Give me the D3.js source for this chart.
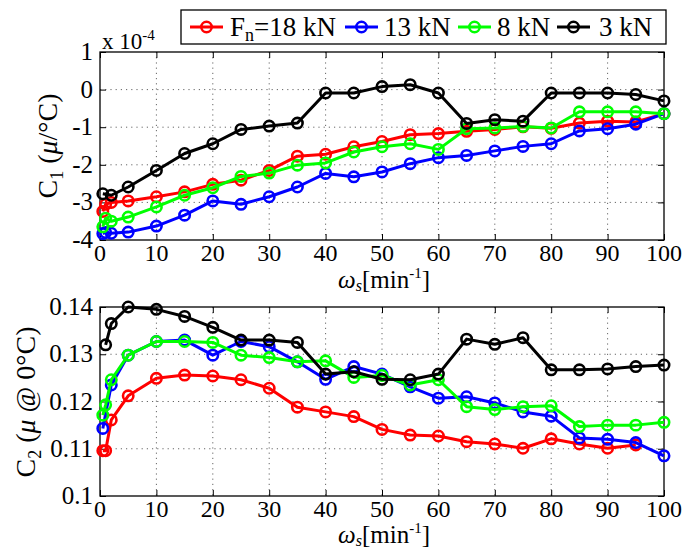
<!DOCTYPE html>
<html><head><meta charset="utf-8">
<script src="https://cdn.jsdelivr.net/npm/d3@7"></script>
<style>body{margin:0;background:#fff}svg{display:block}</style>
</head><body><svg id="c" width="689" height="549"></svg>
<script>
// ---- data ----
const omega = [0.5, 1, 2, 5, 10, 15, 20, 25, 30, 35, 40, 45, 50, 55, 60, 65, 70, 75, 80, 85, 90, 95, 100];
const seriesNames = ["18 kN", "13 kN", "8 kN", "3 kN"];
const seriesColors = ["#ff0000", "#0000ff", "#00ff00", "#000000"];
// C1 (x 1e-4)
const c1_18 = [-3.24, -3.05, -3.0, -2.96, -2.85, -2.72, -2.52, -2.41, -2.15, -1.77, -1.72, -1.52, -1.38, -1.20, -1.17, -1.11, -1.06, -0.99, -1.03, -0.89, -0.84, -0.86, -0.64];
const c1_13 = [-3.83, -3.80, -3.82, -3.79, -3.63, -3.34, -2.96, -3.05, -2.85, -2.59, -2.23, -2.32, -2.19, -1.97, -1.81, -1.75, -1.63, -1.51, -1.44, -1.10, -1.04, -0.92, -0.64];
const c1_8  = [-3.65, -3.42, -3.50, -3.39, -3.12, -2.81, -2.61, -2.31, -2.22, -2.01, -1.95, -1.66, -1.52, -1.44, -1.59, -1.04, -1.02, -0.98, -1.02, -0.59, -0.59, -0.59, -0.64];
const c1_3  = [-2.77, null, -2.81, -2.59, -2.15, -1.70, -1.44, -1.06, -0.97, -0.89, -0.09, -0.09, 0.08, 0.13, -0.09, -0.90, -0.80, -0.84, -0.09, -0.09, -0.09, -0.13, -0.30];
// C2
const c2_18 = [0.1096, 0.1096, 0.1161, 0.1212, 0.1249, 0.1256, 0.1254, 0.1246, 0.1228, 0.1188, 0.1178, 0.1168, 0.1141, 0.1129, 0.1127, 0.1115, 0.1110, 0.1101, 0.1121, 0.1110, 0.1101, 0.1108, null];
const c2_13 = [0.1143, null, 0.1235, 0.1298, 0.1327, 0.1330, 0.1298, 0.1327, 0.1316, 0.1284, 0.1247, 0.1274, 0.1258, 0.1231, 0.1207, 0.1210, 0.1197, 0.1178, 0.1169, 0.1123, 0.1120, 0.1113, 0.1085];
const c2_8  = [0.1171, 0.1193, 0.1246, 0.1298, 0.1327, 0.1327, 0.1325, 0.1298, 0.1293, 0.1284, 0.1286, 0.1251, 0.1255, 0.1235, 0.1246, 0.1189, 0.1183, 0.1189, 0.1191, 0.1147, 0.1150, 0.1150, 0.1156];
const c2_3  = [null, 0.1320, 0.1365, 0.1400, 0.1395, 0.1380, 0.1357, 0.1330, 0.1330, 0.1325, 0.1258, 0.1263, 0.1247, 0.1246, 0.1258, 0.1332, 0.1321, 0.1335, 0.1267, 0.1267, 0.1269, 0.1274, 0.1277];
const xTicks = [0, 10, 20, 30, 40, 50, 60, 70, 80, 90, 100];
const c1Ticks = [1, 0, -1, -2, -3, -4];
const c2Ticks = [0.1, 0.11, 0.12, 0.13, 0.14];
const c2TickLabels = ["0.1", "0.11", "0.12", "0.13", "0.14"];

const FONT = '"Liberation Serif", "Times New Roman", serif';
const svg = d3.select("#c");
const L = 100, R = 664;
function txt(sel) { return sel.append("text").style("font-family", FONT).attr("fill", "#000"); }

function panel(top, bottom, yDomain, yTicks, yLabels, series, xlabOff) {
  const x = d3.scaleLinear().domain([0, 100]).range([L, R]);
  const y = d3.scaleLinear().domain(yDomain).range([bottom, top]);
  const g = svg.append("g");
  // grid
  g.selectAll(".gx").data(xTicks.slice(1, -1)).join("line")
    .attr("x1", d => x(d)).attr("x2", d => x(d)).attr("y1", top).attr("y2", bottom)
    .attr("stroke", "#666").attr("stroke-width", 1).attr("stroke-dasharray", "1.2,4");
  const yInner = yTicks.filter(d => y(d) > top + 1 && y(d) < bottom - 1);
  g.selectAll(".gy").data(yInner).join("line")
    .attr("x1", L).attr("x2", R).attr("y1", d => y(d)).attr("y2", d => y(d))
    .attr("stroke", "#666").attr("stroke-width", 1).attr("stroke-dasharray", "1.2,4");
  // axes with inward ticks
  const axB = d3.axisBottom(x).tickValues(xTicks).tickSize(-6).tickFormat("");
  const axT = d3.axisTop(x).tickValues(xTicks).tickSize(-6).tickFormat("");
  const axL = d3.axisLeft(y).tickValues(yTicks).tickSize(-6).tickFormat("");
  const axR = d3.axisRight(y).tickValues(yTicks).tickSize(-6).tickFormat("");
  [[axB, `translate(0,${bottom})`], [axT, `translate(0,${top})`], [axL, `translate(${L},0)`], [axR, `translate(${R},0)`]].forEach(([a, t]) => {
    const ag = g.append("g").attr("transform", t).call(a);
    ag.select(".domain").remove();
    ag.selectAll("line").attr("stroke", "#000").attr("stroke-width", 1);
  });
  g.append("rect").attr("x", L).attr("y", top).attr("width", R - L).attr("height", bottom - top)
    .attr("fill", "none").attr("stroke", "#000").attr("stroke-width", 1.3);
  // tick labels
  xTicks.forEach(d => txt(g).attr("x", x(d)).attr("y", bottom + 21).attr("text-anchor", "middle")
    .attr("font-size", 24).text(d));
  yTicks.forEach((d, i) => txt(g).attr("x", L - 7).attr("y", y(d) + 8).attr("text-anchor", "end")
    .attr("font-size", 25).text(yLabels[i]));
  // series
  const line = d3.line().x(d => x(d[0])).y(d => y(d[1]));
  series.forEach((vals, i) => {
    const pts = omega.map((o, j) => [o, vals[j]]).filter(d => d[1] != null);
    g.append("path").datum(pts).attr("d", line).attr("fill", "none")
      .attr("stroke", seriesColors[i]).attr("stroke-width", 3).attr("stroke-linejoin", "round");
    g.selectAll(null).data(pts).join("circle")
      .attr("cx", d => x(d[0])).attr("cy", d => y(d[1])).attr("r", 5.2)
      .attr("fill", "none").attr("stroke", seriesColors[i]).attr("stroke-width", 2.6);
  });
  // x label
  const xl = txt(g).attr("x", (L + R) / 2 + 2).attr("y", bottom + xlabOff)
    .attr("text-anchor", "middle").attr("font-size", 25);
  xl.append("tspan").attr("font-style", "italic").text("ω");
  xl.append("tspan").attr("font-style", "italic").attr("font-size", 16).attr("dy", 3).text("s");
  xl.append("tspan").attr("dy", -3).text("[min");
  xl.append("tspan").attr("font-size", 15).attr("dy", -10).text("-1");
  xl.append("tspan").attr("dy", 10).text("]");
  return { x, y, g };
}

const p1 = panel(52, 240, [-4, 1], c1Ticks, c1Ticks.map(d => String(d)), [c1_18, c1_13, c1_8, c1_3], 48);
const p2 = panel(307, 496, [0.1, 0.14], c2Ticks, c2TickLabels, [c2_18, c2_13, c2_8, c2_3], 47);

// exponent
const ex = txt(svg).attr("x", 102).attr("y", 49).attr("font-size", 23);
ex.append("tspan").text("x 10");
ex.append("tspan").attr("font-size", 15).attr("dy", -9).text("-4");

// y labels
function yLabel(cx, cy, parts) {
  const t = txt(svg).attr("transform", `translate(${cx},${cy}) rotate(-90)`)
    .attr("text-anchor", "middle").attr("font-size", 28);
  parts.forEach(p => {
    const s = t.append("tspan").text(p.t);
    if (p.it) s.attr("font-style", "italic");
    if (p.sub) s.attr("font-size", 18).attr("dy", 6);
    if (p.up) s.attr("dy", -6);
  });
}
yLabel(57, 146, [{ t: "C" }, { t: "1", sub: true }, { t: " (", up: true }, { t: "μ", it: true }, { t: "/°C)" }]);
yLabel(35, 402, [{ t: "C" }, { t: "2", sub: true }, { t: " (", up: true }, { t: "μ", it: true }, { t: " @ 0°C)" }]);

// legend
const lg = svg.append("g");
lg.append("rect").attr("x", 181).attr("y", 10).attr("width", 485).attr("height", 34)
  .attr("fill", "#fff").attr("stroke", "#000").attr("stroke-width", 1.3);
const legX = [190, 345, 458, 557];
const legTextX = [230, 384, 497, 599];
seriesNames.forEach((n, i) => {
  lg.append("line").attr("x1", legX[i]).attr("x2", legX[i] + 33).attr("y1", 27).attr("y2", 27)
    .attr("stroke", seriesColors[i]).attr("stroke-width", 3);
  lg.append("circle").attr("cx", legX[i] + 16.5).attr("cy", 27).attr("r", 5.2)
    .attr("fill", "none").attr("stroke", seriesColors[i]).attr("stroke-width", 2.6);
  const t = txt(lg).attr("x", legTextX[i]).attr("y", 36).attr("font-size", 27);
  if (i === 0) {
    t.append("tspan").text("F");
    t.append("tspan").attr("font-size", 18).attr("dy", 5).text("n");
    t.append("tspan").attr("dy", -5).text("=" + n);
  } else t.text(n);
});
</script></body></html>
